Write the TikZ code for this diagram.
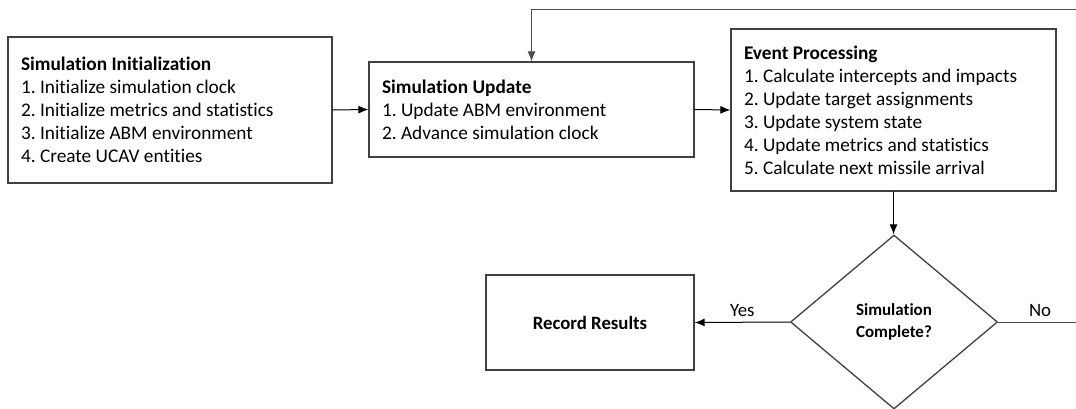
\documentclass[tikz,border=0pt]{standalone}
\usepackage{fontspec}
\setmainfont{Carlito}[Ligatures=NoCommon]
\usetikzlibrary{arrows.meta, positioning, shapes.geometric, calc}

\tikzset{
  procbox/.style={draw=black!75, line width=1.3pt, align=left, inner xsep=13pt, inner ysep=0pt,
                  font=\fontsize{19.3}{23}\selectfont,
                  execute at begin node={\spaceskip=0pt\xspaceskip=0pt}},
  resultbox/.style={draw=black!75, line width=1.3pt, align=center,
                  font=\bfseries\fontsize{18.8}{23}\selectfont},
  decision/.style={draw=black!75, line width=1.3pt, diamond, aspect=1.19, inner sep=0pt, align=center,
                  font=\bfseries\fontsize{17}{22}\selectfont},
  flow/.style={-{Latex[length=10pt,width=8pt]}, line width=1pt},
  lbl/.style={font=\fontsize{18.8}{23}\selectfont}
}
\frenchspacing

\begin{document}
\begin{tikzpicture}[x=1pt,y=1pt]
\useasboundingbox (0,0) rectangle (1076,408);
\clip (0,0) rectangle (1076,408);

% process boxes
\node[procbox, minimum width=324pt, minimum height=146pt, text width=298pt] (init) at (170,298)
     {\textbf{Simulation Initialization}\\
      1. Initialize simulation clock\\
      2. Initialize metrics and statistics\\
      3. Initialize ABM environment\\
      4. Create UCAV entities};
\node[procbox, minimum width=325pt, minimum height=95pt, text width=299pt] (update) at (531.5,298.5)
     {\textbf{Simulation Update}\\
      1. Update ABM environment\\
      2. Advance simulation clock};
\node[procbox, minimum width=325pt, minimum height=162pt, text width=299pt] (event) at (893.5,298)
     {\textbf{Event Processing}\\
      1. Calculate intercepts and impacts\\
      2. Update target assignments\\
      3. Update system state\\
      4. Update metrics and statistics\\
      5. Calculate next missile arrival};

% decision and result
\node[decision, minimum width=207pt, minimum height=174pt] (done) at (894,86)
     {Simulation\\Complete?};
\node[resultbox, minimum width=208pt, minimum height=95pt] (record) at (590,85.5) {Record Results};

% connectors
\draw[flow] (init.east) -- (update.west);
\draw[flow] (update.east) -- (event.west);
\draw[flow] (event.south) -- (event.south |- done.north);
\draw[flow] (done.west) -- node[lbl, above=2pt] {Yes} (record.east);
\coordinate (fbr) at (1082,86);
\coordinate (fbt) at (1082,398);
\draw[flow, draw=black!70] (done.east) -- node[lbl, above=2pt] {No} (fbr) -- (fbt) -| (update.north);
\end{tikzpicture}
\end{document}
